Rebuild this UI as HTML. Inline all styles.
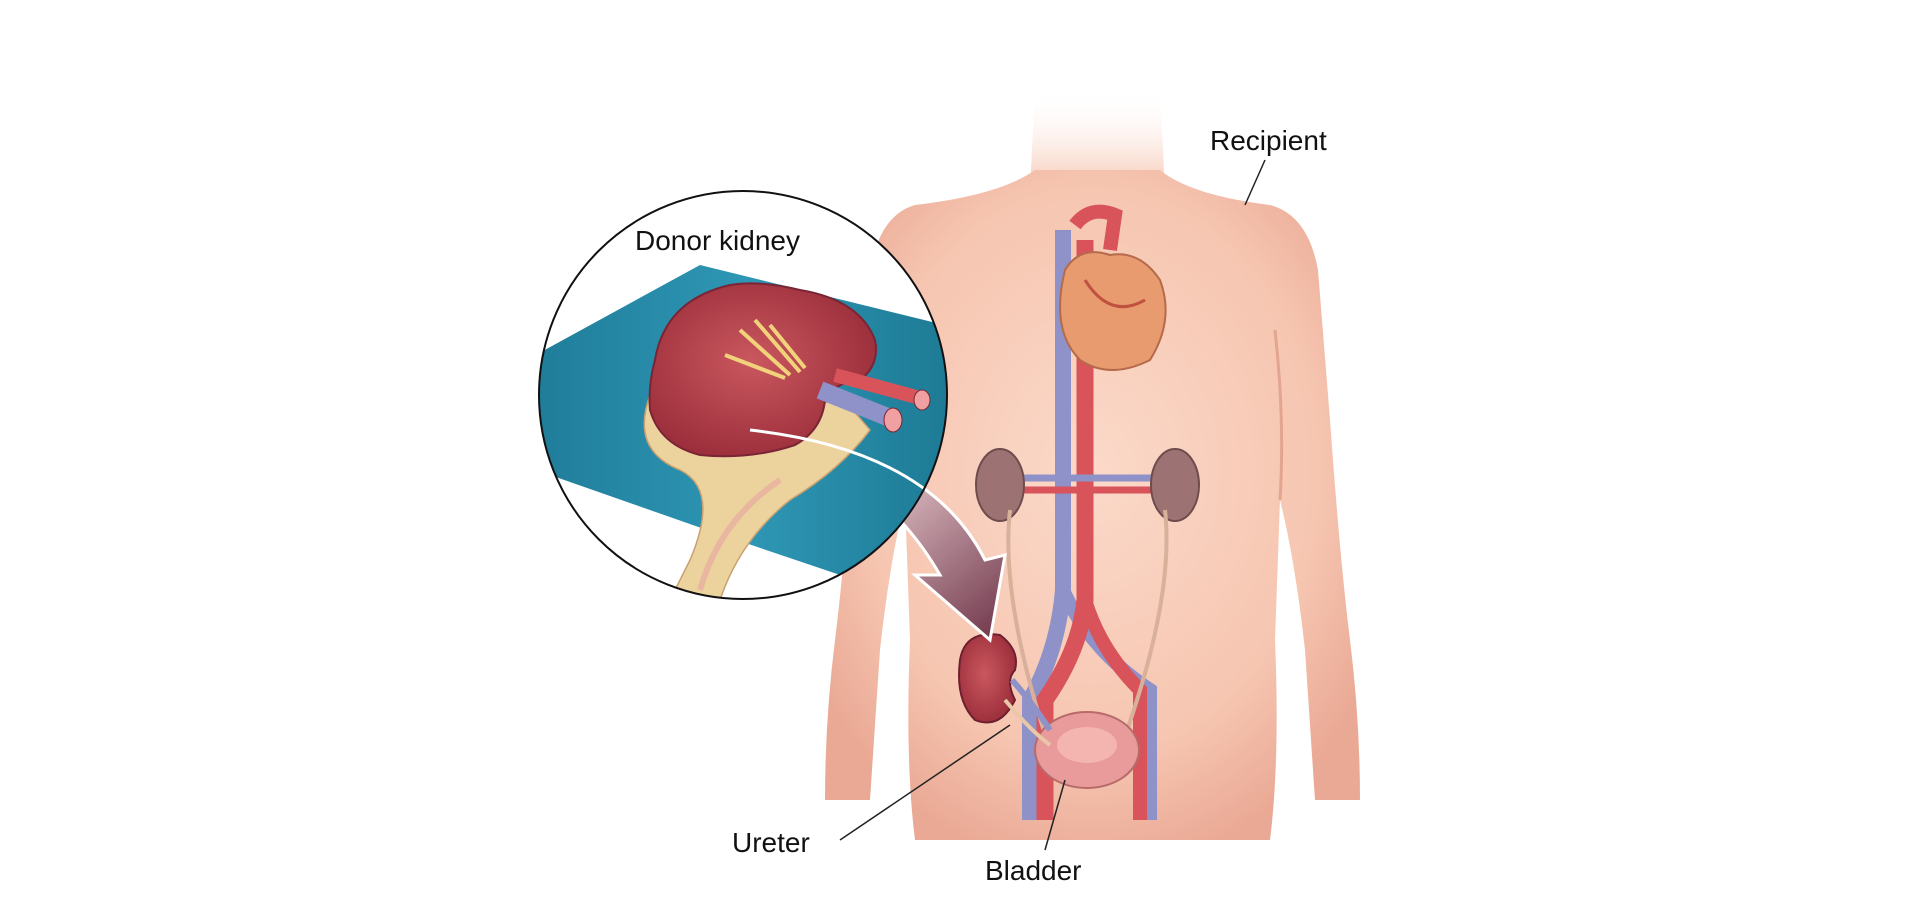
<!DOCTYPE html>
<html><head><meta charset="utf-8"><style>
html,body{margin:0;padding:0;background:#fff;}
svg{display:block;}
text{font-family:"Liberation Sans",sans-serif;fill:#111;}
</style></head><body>
<svg width="1920" height="920" viewBox="0 0 1920 920" xmlns="http://www.w3.org/2000/svg">
<defs>
<radialGradient id="skin" cx="50%" cy="45%" r="60%">
<stop offset="0" stop-color="#fbd9c9"/><stop offset="0.7" stop-color="#f6c6b1"/><stop offset="1" stop-color="#eaa995"/>
</radialGradient>
<linearGradient id="neck" x1="0" y1="0" x2="0" y2="1">
<stop offset="0" stop-color="#fff" stop-opacity="0"/><stop offset="1" stop-color="#f6c6b1"/>
</linearGradient>
<linearGradient id="arrow" x1="0" y1="0" x2="1" y2="1">
<stop offset="0" stop-color="#fff"/><stop offset="0.5" stop-color="#c9a5ad"/><stop offset="1" stop-color="#6e3448"/>
</linearGradient>
<linearGradient id="blue" x1="0" y1="0" x2="1" y2="0">
<stop offset="0" stop-color="#1f7c99"/><stop offset="0.5" stop-color="#2e97b5"/><stop offset="1" stop-color="#1c7892"/>
</linearGradient>
<radialGradient id="kid" cx="45%" cy="45%" r="60%">
<stop offset="0" stop-color="#c9575e"/><stop offset="1" stop-color="#9a2d3a"/>
</radialGradient>
<clipPath id="cc"><circle cx="743" cy="395" r="204"/></clipPath>
</defs>

<path d="M1035 90 L1160 90 L1165 190 L1030 190 Z" fill="url(#neck)"/>
<path d="M1035 170 Q1000 195 915 205 Q880 215 870 270 L855 420 Q845 560 835 640 Q825 720 825 800 L870 800 L880 650 Q890 560 905 500 L910 640 Q905 760 915 840 L1270 840 Q1280 760 1275 640 L1280 500 Q1295 560 1305 650 L1315 800 L1360 800 Q1360 720 1350 640 Q1340 560 1330 420 L1318 270 Q1308 215 1270 205 Q1190 195 1160 170 Z" fill="url(#skin)"/>
<path d="M905 500 Q900 420 910 330" stroke="#e3a590" stroke-width="3" fill="none"/>
<path d="M1280 500 Q1285 420 1275 330" stroke="#e3a590" stroke-width="3" fill="none"/>

<path d="M1063 230 L1063 590 Q1058 650 1030 700 L1030 820" stroke="#8e92c8" stroke-width="16" fill="none"/>
<path d="M1063 590 Q1090 650 1150 690 L1150 820" stroke="#8e92c8" stroke-width="14" fill="none"/>
<path d="M1085 240 L1085 600 Q1080 650 1045 700 L1045 820" stroke="#d9535a" stroke-width="17" fill="none"/>
<path d="M1085 600 Q1100 650 1140 690 L1140 820" stroke="#d9535a" stroke-width="14" fill="none"/>
<path d="M1010 490 L1160 490" stroke="#d9535a" stroke-width="7"/>
<path d="M1010 478 L1160 478" stroke="#8e92c8" stroke-width="7"/>
<path d="M1065 270 Q1050 330 1080 360 Q1110 380 1150 360 Q1175 320 1160 280 Q1140 250 1110 255 Q1080 245 1065 270 Z" fill="#e79b6e" stroke="#b56a4a" stroke-width="2"/>
<path d="M1085 280 Q1110 320 1145 300" stroke="#c05040" stroke-width="3" fill="none"/>
<path d="M1075 225 Q1090 205 1115 215 L1110 250" stroke="#d9535a" stroke-width="14" fill="none"/>
<ellipse cx="1000" cy="485" rx="24" ry="36" fill="#9c7272" stroke="#6f4c4c" stroke-width="2"/>
<ellipse cx="1175" cy="485" rx="24" ry="36" fill="#9c7272" stroke="#6f4c4c" stroke-width="2"/>
<path d="M1010 510 Q1000 600 1050 750" stroke="#d9b09a" stroke-width="4" fill="none"/>
<path d="M1165 510 Q1175 600 1120 750" stroke="#d9b09a" stroke-width="4" fill="none"/>
<ellipse cx="1087" cy="750" rx="52" ry="38" fill="#e99a9a" stroke="#b76a6a" stroke-width="2"/>
<ellipse cx="1087" cy="745" rx="30" ry="18" fill="#f4b5b0"/>
<path d="M960 660 Q965 630 1000 635 Q1020 650 1015 670 Q1005 680 1015 700 Q1000 730 975 720 Q955 700 960 660Z" fill="url(#kid)" stroke="#6e2030" stroke-width="2"/>
<path d="M1012 680 Q1030 700 1050 730" stroke="#8e92c8" stroke-width="6" fill="none"/>
<path d="M1005 700 Q1030 730 1050 745" stroke="#e8c8a8" stroke-width="4" fill="none"/>

<path d="M750 430 Q930 450 985 560 L1005 555 L990 640 L915 575 L940 575 Q880 470 750 430 Z" fill="url(#arrow)" stroke="#fff" stroke-width="3"/>

<circle cx="743" cy="395" r="204" fill="#fff"/>
<g clip-path="url(#cc)">
<path d="M530 358 L700 265 L965 330 L965 560 L855 580 L707 530 L530 468 Z" fill="url(#blue)"/>
<!-- fatty tail -->
<path d="M650 395 Q630 450 680 470 Q720 490 690 560 L670 600 L720 600 Q740 540 790 500 Q840 470 870 430 L840 395 Q760 440 700 430 Z" fill="#ecd39e" stroke="#c9a070" stroke-width="1.5"/>
<path d="M700 590 Q720 520 780 480" stroke="#e9b7a0" stroke-width="6" fill="none"/>
<!-- kidney -->
<path d="M655 360 Q665 300 730 285 Q760 280 800 290 Q860 300 875 340 Q880 365 860 380 Q835 382 825 400 Q822 430 795 445 Q750 460 700 455 Q660 445 650 410 Q648 385 655 360Z" fill="url(#kid)" stroke="#7a2535" stroke-width="2"/>
<path d="M740 330 L790 375 M755 320 L800 372 M725 355 L785 378 M770 325 L805 368" stroke="#f1d27a" stroke-width="4"/>
<path d="M820 390 L890 418" stroke="#8e92c8" stroke-width="18"/>
<path d="M835 375 L920 398" stroke="#d9535a" stroke-width="14"/>
<ellipse cx="893" cy="420" rx="9" ry="12" fill="#f0a0a0" stroke="#7a2535"/>
<ellipse cx="922" cy="400" rx="8" ry="10" fill="#f0a0a0" stroke="#7a2535"/>
</g>
<path d="M750 430 Q930 450 985 560" stroke="#fff" stroke-width="3" fill="none"/>
<circle cx="743" cy="395" r="204" fill="none" stroke="#111" stroke-width="2"/>

<text x="635" y="250" font-size="28">Donor kidney</text>
<text x="1210" y="150" font-size="28">Recipient</text>
<path d="M1265 160 L1245 205" stroke="#222" stroke-width="1.5"/>
<text x="732" y="852" font-size="28">Ureter</text>
<path d="M840 840 L1010 725" stroke="#222" stroke-width="1.5"/>
<text x="985" y="880" font-size="28">Bladder</text>
<path d="M1045 850 L1065 780" stroke="#222" stroke-width="1.5"/>
</svg>
</body></html>
